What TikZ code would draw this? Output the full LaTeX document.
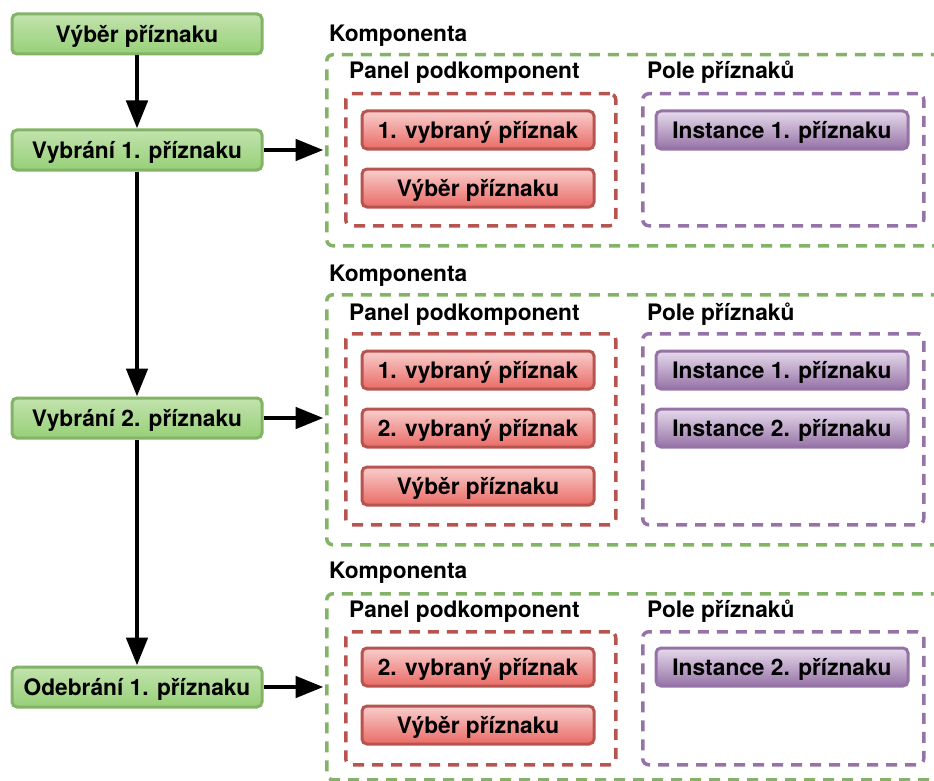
\documentclass[tikz,border=0pt]{standalone}
\usepackage{fontspec}
\setmainfont{TeX Gyre Heros}
\usetikzlibrary{arrows.meta}

\definecolor{grnEdge}{HTML}{82B366}
\definecolor{grnTop}{HTML}{C2E3AE}
\definecolor{grnBot}{HTML}{97D077}
\definecolor{redEdge}{HTML}{B85450}
\definecolor{redTop}{HTML}{F8CECC}
\definecolor{redBot}{HTML}{EA6B66}
\definecolor{purEdge}{HTML}{9673A6}
\definecolor{purTop}{HTML}{E6DAEC}
\definecolor{purBot}{HTML}{9673A6}

\tikzset{
  boxtext/.style={font=\fontsize{22.7}{27}\selectfont\bfseries},
  tagged/.style={boxtext, line width=3pt, rounded corners=5pt,
    text height=16.3pt, text depth=0pt, inner sep=0pt},
  stepbox/.style={tagged, draw=grnEdge, top color=grnTop, bottom color=grnBot,
    minimum width=250pt, minimum height=40pt},
  pickbox/.style={tagged, draw=redEdge, top color=redTop, bottom color=redBot,
    minimum width=232pt, minimum height=38pt},
  instbox/.style={tagged, draw=purEdge, top color=purTop, bottom color=purBot,
    minimum width=252pt, minimum height=38pt},
  group/.style={dashed, dash pattern=on 11pt off 8pt, line width=3.5pt,
    rounded corners=6pt, anchor=north west, inner sep=0pt},
  kompbox/.style={group, draw=grnEdge, minimum width=640pt},
  panelbox/.style={group, draw=redEdge, minimum width=270pt},
  polebox/.style={group, draw=purEdge, minimum width=281pt},
  title/.style={boxtext, anchor=base west, inner sep=0pt},
  flow/.style={line width=4.8pt, -{Triangle[length=28pt,width=21pt]}}
}

\begin{document}
\begin{tikzpicture}[x=1pt,y=-1pt]
\useasboundingbox (0,0) rectangle (934,781);
\clip (0,0) rectangle (934,781);

% left column: sequence of steps
\node[stepbox] (s0) at (137,34)  {Výběr příznaku};
\node[stepbox] (s1) at (137,150) {Vybrání 1. příznaku};
\node[stepbox] (s2) at (137,418) {Vybrání 2. příznaku};
\node[stepbox] (s3) at (137,687) {Odebrání 1. příznaku};

% component 1
\node[title] (kt1) at (329,42) {Komponenta};
\node[kompbox, minimum height=191pt] (k1) at (325,53) {};
\node[title] (pt1) at (349,79) {Panel podkomponent};
\node[panelbox, minimum height=132pt] (p1) at (344,92) {};
\node[pickbox] (p1a) at (478,130) {1. vybraný příznak};
\node[pickbox] (p1b) at (478,188) {Výběr příznaku};
\node[title] (ft1) at (647,79) {Pole příznaků};
\node[polebox, minimum height=132pt] (f1) at (641,92) {};
\node[instbox] (f1a) at (782,130) {Instance 1. příznaku};

% component 2
\node[title] (kt2) at (329,281) {Komponenta};
\node[kompbox, minimum height=250pt] (k2) at (325,293) {};
\node[title] (pt2) at (349,320) {Panel podkomponent};
\node[panelbox, minimum height=191pt] (p2) at (344,332) {};
\node[pickbox] (p2a) at (478,370) {1. vybraný příznak};
\node[pickbox] (p2b) at (478,428) {2. vybraný příznak};
\node[pickbox] (p2c) at (478,486) {Výběr příznaku};
\node[title] (ft2) at (647,320) {Pole příznaků};
\node[polebox, minimum height=191pt] (f2) at (641,332) {};
\node[instbox] (f2a) at (782,370) {Instance 1. příznaku};
\node[instbox] (f2b) at (782,428) {Instance 2. příznaku};

% component 3
\node[title] (kt3) at (329,578) {Komponenta};
\node[kompbox, minimum height=186pt] (k3) at (325,592) {};
\node[title] (pt3) at (349,617) {Panel podkomponent};
\node[panelbox, minimum height=133pt] (p3) at (344,630) {};
\node[pickbox] (p3a) at (478,667) {2. vybraný příznak};
\node[pickbox] (p3b) at (478,725) {Výběr příznaku};
\node[title] (ft3) at (647,617) {Pole příznaků};
\node[polebox, minimum height=133pt] (f3) at (641,630) {};
\node[instbox] (f3a) at (782,667) {Instance 2. příznaku};

% connectors
\draw[flow] (s0) -- (s1);
\draw[flow] (s1) -- (s2);
\draw[flow] (s2) -- (s3);
\draw[flow, shorten >=1.5pt] (s1) -- (s1 -| k1.west);
\draw[flow, shorten >=1.5pt] (s2) -- (s2 -| k2.west);
\draw[flow, shorten >=1.5pt] (s3) -- (s3 -| k3.west);
\end{tikzpicture}
\end{document}
